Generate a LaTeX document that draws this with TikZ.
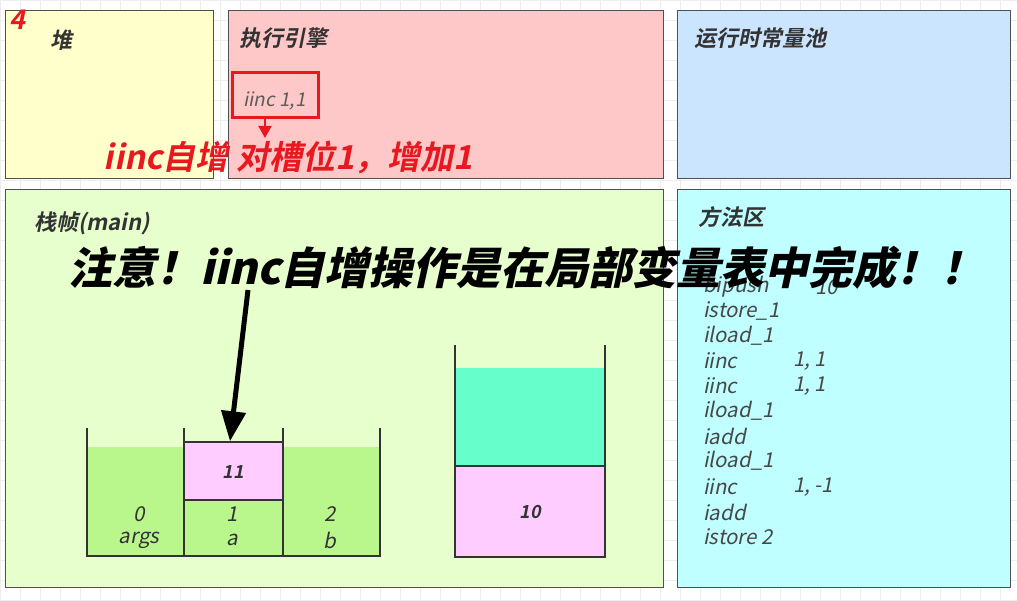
\documentclass[tikz,border=0pt]{standalone}
\usepackage{fontspec}
\usetikzlibrary{arrows.meta}
\newfontfamily\cjk[FakeSlant=0.2]{Noto Sans CJK SC}
\newfontfamily\cjkb[FakeSlant=0.2]{Noto Sans CJK SC Bold}
\newfontfamily\cjkk[FakeSlant=0.22]{Noto Sans CJK SC Black}
\definecolor{heapc}{HTML}{FFFFCC}
\definecolor{enginec}{HTML}{FFC8C8}
\definecolor{poolc}{HTML}{CCE5FF}
\definecolor{framec}{HTML}{E6FFCC}
\definecolor{methodc}{HTML}{BFFFFF}
\definecolor{slotc}{RGB}{185,246,140}
\definecolor{tealc}{HTML}{66FFCC}
\definecolor{pinkc}{HTML}{FFCCFF}
\definecolor{redc}{RGB}{232,24,32}
\definecolor{edgec}{HTML}{505050}
\definecolor{txtc}{HTML}{333333}
\tikzset{
  region/.style={draw=edgec, line width=1.2pt, anchor=north west, inner sep=0pt},
  title/.style={anchor=west, text=txtc, font=\cjkb\fontsize{22}{24}\selectfont, inner sep=0pt},
  code/.style={anchor=west, text=txtc!90, font=\cjk\fontsize{20.5}{22}\selectfont, inner sep=0pt},
  slotlbl/.style={text=txtc, font=\cjk\fontsize{20.5}{22}\selectfont, inner sep=0pt},
  val/.style={text=txtc, font=\cjkb\fontsize{18}{20}\selectfont, inner sep=0pt},
  wall/.style={draw=txtc, line width=2pt},
}
\begin{document}
\begin{tikzpicture}[x=1pt,y=-1pt]
\useasboundingbox (0,0) rectangle (1017,601);
\fill[white] (0,0) rectangle (1017,601);
\draw[black!7, line width=0.5pt, step=20pt] (0,0) grid (1017,601);
% regions
\node[region, fill=heapc, minimum width=208pt, minimum height=168pt] (heap) at (5,10) {};
\node[region, fill=enginec, minimum width=435pt, minimum height=168pt] (engine) at (228,10) {};
\node[region, fill=poolc, minimum width=333pt, minimum height=168pt] (pool) at (677,10) {};
\node[region, fill=framec, minimum width=658pt, minimum height=398pt] (frame) at (5,189) {};
\node[region, fill=methodc, minimum width=333pt, minimum height=398pt] (method) at (677,189) {};
% titles
\node[title] (t1) at (50,40) {堆};
\node[title] (t2) at (239,38) {执行引擎};
\node[title] (t3) at (694,38) {运行时常量池};
\node[title] (t4) at (34,223) {栈帧(main)};
\node[title] (t5) at (698,217) {方法区};
\node[anchor=west, inner sep=0pt, text=redc, font=\cjkb\fontsize{27}{28}\selectfont] (num) at (9,20) {4};
% engine instruction
\node[draw=redc, line width=3pt, minimum width=86pt, minimum height=45pt, inner sep=0pt] (redbox) at (275,95.5) {};
\node[code, font=\cjk\fontsize{19}{20}\selectfont, text=txtc!80] (instr) at (243,101) {iinc 1,1};
\node[inner sep=0pt, text=redc, font=\cjkb\fontsize{33}{36}\selectfont] (note1) at (288.5,158) {iinc自增 对槽位1，增加1};
\draw[redc, line width=2pt, -{Triangle[width=13pt,length=12pt]}] (redbox.south -| 265,0) -- (265,138);
% method area code
\node[code] (c1) at (703,287) {bipush};
\node[code] (c1b) at (815,287) {10};
\foreach \n/\txt/\y in {2/istore\_1/311,3/iload\_1/336,4/iinc/361,5/iinc/386,6/iload\_1/411,7/iadd/436,8/iload\_1/461,9/iinc/487,10/iadd/512,11/istore 2/537}
  \node[code] (c\n) at (703,\y) {\txt};
\node[code] (c4b) at (793,361) {1, 1};
\node[code] (c5b) at (793,386) {1, 1};
\node[code] (c9b) at (793,487) {1, -1};
% local variable table
\fill[slotc] (87,447) rectangle (184,555);
\fill[slotc] (283,447) rectangle (380,555);
\fill[slotc] (184,500) rectangle (283,555);
\node[draw=txtc, line width=1.5pt, fill=pinkc, minimum width=99pt, minimum height=58pt, inner sep=0pt] (slot1v) at (233.5,471) {};
\node[val] (v11) at (233,472) {11};
\draw[wall] (87,428) -- (87,556) -- (380,556) -- (380,428);
\draw[wall] (184,428) -- (184,557);
\draw[wall] (283,428) -- (283,556);
\node[slotlbl] (s0) at (139,514) {0};
\node[slotlbl] (s0n) at (139,540) {args};
\node[slotlbl] (s1) at (232,514) {1};
\node[slotlbl] (s1n) at (232,540) {a};
\node[slotlbl] (s2) at (330,514) {2};
\node[slotlbl] (s2n) at (330,540) {b};
% operand stack
\fill[tealc] (455,368) rectangle (605,466);
\fill[pinkc] (455,466) rectangle (605,557);
\draw[txtc, line width=1.5pt] (455,466) -- (605,466);
\draw[wall] (455,345) -- (455,557) -- (605,557) -- (605,345);
\node[val] (v10) at (530,512) {10};
% big note
\node[inner sep=0pt, text=black, font=\cjkk\fontsize{44}{48}\selectfont] (note2) at (526.5,268) {注意！iinc自增操作是在局部变量表中完成！！};
\coordinate (astart) at (248,290);
\draw[black, line width=5pt, -{Triangle[width=24pt,length=30pt]}] (astart) -- (slot1v.north -| 230,0);
\end{tikzpicture}
\end{document}
